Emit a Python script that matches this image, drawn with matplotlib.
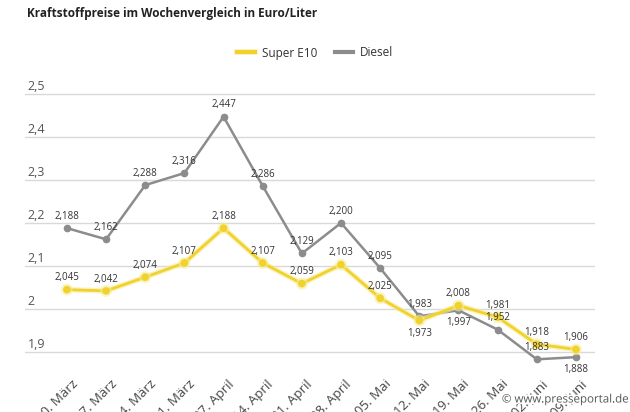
import matplotlib.pyplot as plt
import matplotlib.patheffects as pe
import matplotlib.transforms as mtransforms

plt.rcParams['font.family'] = ['Open Sans', 'DejaVu Sans']

wochen = ['10. März', '17. März', '24. März', '31. März', '07. April', '14. April',
          '21. April', '28. April', '05. Mai', '12. Mai', '19. Mai', '26. Mai',
          '02. Juni', '09. Juni']
super_e10 = [2.045, 2.042, 2.074, 2.107, 2.188, 2.107, 2.059, 2.103, 2.025,
             1.973, 2.008, 1.981, 1.918, 1.906]
diesel = [2.188, 2.162, 2.288, 2.316, 2.447, 2.286, 2.129, 2.200, 2.095,
          1.983, 1.997, 1.952, 1.883, 1.888]
# labels below the point instead of above
e10_unten = [9]
diesel_unten = [10, 13]
y_ticks = [1.9, 2.0, 2.1, 2.2, 2.3, 2.4, 2.5]
y_tick_labels = ['1,9', '2', '2,1', '2,2', '2,3', '2,4', '2,5']

gelb = '#f1d22c'
grau = '#8c8c8c'

fig = plt.figure(figsize=(6.3, 4.12), dpi=100)
ax = fig.add_axes([0.0397, 0.1039, 0.905, 0.689])

x = list(range(len(wochen)))
ax.plot(x, diesel, color=grau, lw=1.8, marker='o', ms=4.5, zorder=3, label='Diesel')
ax.plot(x, super_e10, color=gelb, lw=2.0, marker='o', ms=4.5, zorder=4, label='Super E10',
        path_effects=[pe.Stroke(linewidth=4, foreground='#f7ec9a', alpha=0.6), pe.Normal()])

def beschriften(werte, unten):
    for i, v in enumerate(werte):
        dy = -9 if i in unten else 8.5
        ax.annotate(f'{v:.3f}'.replace('.', ','), (i, v), xytext=(0, dy),
                    textcoords='offset points', ha='center', va='center',
                    fontsize=7, color='#333333', zorder=5)

beschriften(diesel, diesel_unten)
beschriften(super_e10, e10_unten)

ax.set_xlim(-1.07, 13.49)
ax.set_ylim(1.86, 2.52)
for t in y_ticks:
    ax.axhline(t, color='#d9d9d9', lw=1, zorder=1)
for t, lab in zip(y_ticks, y_tick_labels):
    ax.text(0.005, t + 0.003, lab, transform=ax.get_yaxis_transform(),
            ha='left', va='bottom', fontsize=9, color='#555555')
ax.set_yticks([])
ax.set_xticks(x)
ax.set_xticklabels(wochen, rotation=45, ha='right', va='top', rotation_mode='anchor',
                   fontsize=9.5, color='#444444')
ax.tick_params(axis='x', length=0, pad=6)
shift = mtransforms.ScaledTranslation(4 / 100, 0, fig.dpi_scale_trans)
for lab in ax.get_xticklabels():
    lab.set_transform(lab.get_transform() + shift)
for s in ax.spines.values():
    s.set_visible(False)

fig.text(27 / 630, 1 - 14 / 412, 'Kraftstoffpreise im Wochenvergleich in Euro/Liter',
         fontsize=8.5, fontweight='bold', color='#222222', ha='left', va='center')

handles, labels = ax.get_legend_handles_labels()
leg = fig.legend(handles[::-1], labels[::-1], loc='center', bbox_to_anchor=(315 / 630, 1 - 53 / 412),
                 ncol=2, frameon=False, fontsize=8.5, handlelength=1.5, columnspacing=1.5,
                 handletextpad=0.6)
for h in leg.legend_handles:
    h.set_marker('')
    h.set_linewidth(3)
for t in leg.get_texts():
    t.set_color('#333333')

fig.text(0.998, 1 - 399 / 412, '© www.presseportal.de', ha='right', va='center',
         fontsize=8.3, color='#555555',
         path_effects=[pe.withStroke(linewidth=2.5, foreground='white')])

fig.savefig('out.png', dpi=100)
